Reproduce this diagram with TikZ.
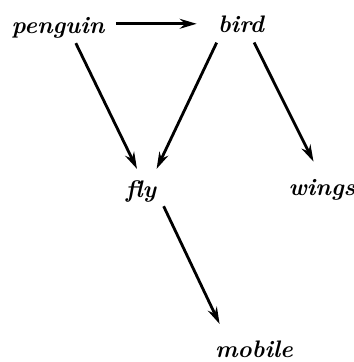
\documentclass[tikz,border=0pt]{standalone}
\usepackage{tikz}
\usetikzlibrary{arrows.meta,positioning}

\begin{document}
\begin{tikzpicture}[
    word/.style={inner sep=0pt, anchor=base, font=\fontsize{17}{19}\selectfont\bfseries\itshape},
    link/.style={-{Stealth[length=12pt,width=7pt]}, line width=2pt}
]
    \useasboundingbox (0,0) rectangle (8.85,9.05);

    % top row
    \node[word] (penguin) at (1.45,8.225) {penguin};
    \node[word] (bird) at (6.025,8.25) {bird};

    % middle row
    \node[word] (fly) at (3.525,4.125) {fly};
    \node[word] (wings) at (8.05,4.175) {wings};

    % bottom
    \node[word] (mobile) at (6.35,0.125) {mobile};

    \draw[link, shorten <=8pt, shorten >=15pt] (penguin.east |- bird) -- (bird);
    \draw[link, shorten <=4pt, shorten >=8.7pt] (penguin.-35) -- (fly.83);
    \draw[link, shorten <=8pt, shorten >=8.7pt] (bird.204) -- (fly.47);
    \draw[link, shorten <=8pt, shorten >=13.5pt] (bird.-47) -- (wings.north);
    \draw[link, shorten <=12pt, shorten >=12.7pt] (fly.east) -- (mobile.162);
\end{tikzpicture}
\end{document}
